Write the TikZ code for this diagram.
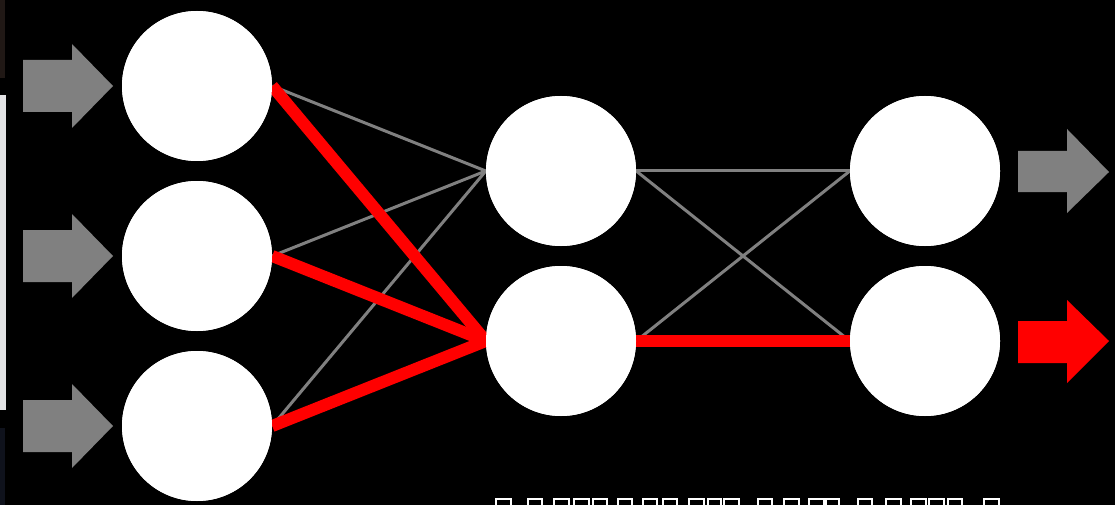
\documentclass[tikz,border=0pt]{standalone}
\definecolor{stripbrown}{RGB}{32,24,21}
\definecolor{stripgray}{RGB}{226,227,229}
\definecolor{stripnavy}{RGB}{15,18,28}
\definecolor{arrowgray}{RGB}{128,128,128}
\begin{document}
\begin{tikzpicture}[x=1pt,y=-1pt,
  neuron/.style={circle,fill=white,draw=none,minimum size=150pt,inner sep=0pt},
  weak/.style={draw=arrowgray,line width=3pt},
  strong/.style={draw=red,line width=12pt},
  tofu/.style={draw=white,line width=1.6pt}]
\fill[black] (0,0) rectangle (1115,505);
\useasboundingbox (0,0) rectangle (1115,505);
% left-edge strips
\fill[stripbrown] (0,0) rectangle (5,78);
\fill[stripgray] (0,95) rectangle (6,410);
\fill[stripnavy] (0,428) rectangle (5,505);
% neurons (named, for the connectors)
\node[neuron] (i1) at (197,86) {};
\node[neuron] (i2) at (197,256) {};
\node[neuron] (i3) at (197,426) {};
\node[neuron] (h1) at (561,171) {};
\node[neuron] (h2) at (561,341) {};
\node[neuron] (o1) at (925,171) {};
\node[neuron] (o2) at (925,341) {};
% connections
\draw[weak] (i1.east) -- (h1.west);
\draw[weak] (i2.east) -- (h1.west);
\draw[weak] (i3.east) -- (h1.west);
\draw[weak] (h1.east) -- (o1.west);
\draw[weak] (h1.east) -- (o2.west);
\draw[weak] (h2.east) -- (o1.west);
\draw[strong] (i1.east) -- (h2.west);
\draw[strong] (i2.east) -- (h2.west);
\draw[strong] (i3.east) -- (h2.west);
\draw[strong] (h2.east) -- (o2.west);
% neurons drawn again on top of the connector ends
\foreach \n in {i1,i2,i3,h1,h2,o1,o2}
  \fill[white] (\n) circle (75);
% input arrows
\foreach \y in {86,256,426}
  \fill[arrowgray] (23,\y-26) -- (72,\y-26) -- (72,\y-42) -- (113,\y) -- (72,\y+42) -- (72,\y+26) -- (23,\y+26) -- cycle;
% output arrows
\fill[arrowgray] (1018,151) -- (1067,151) -- (1067,129) -- (1109,172) -- (1067,213) -- (1067,192) -- (1018,192) -- cycle;
\fill[red] (1018,321) -- (1067,321) -- (1067,300) -- (1109,341) -- (1067,383) -- (1067,363) -- (1018,363) -- cycle;
% empty glyph boxes at the bottom (unrendered caption)
\foreach \a/\b in {495/512,527/543,553/570,573/590,592/608,617/633,642/658,662/678,688/705,707/722,723/740,757/773,783/800,808/825,825/840,857/873,885/902,910/927,928/945,947/963,983/1000}
  \draw[tofu] (\a+0.8,510) -- (\a+0.8,498.8) -- (\b-0.8,498.8) -- (\b-0.8,510);
\end{tikzpicture}
\end{document}
